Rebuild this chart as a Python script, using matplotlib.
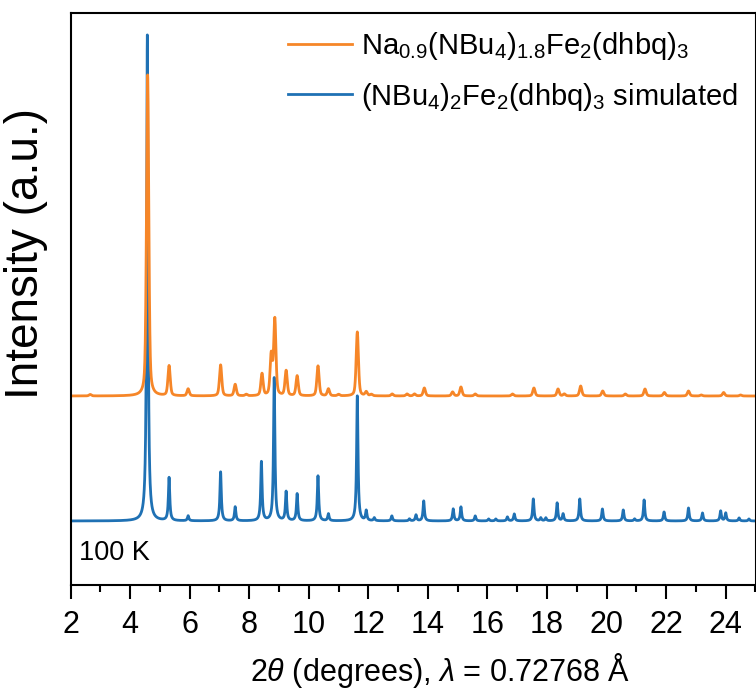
import numpy as np
import matplotlib
matplotlib.use("Agg")
import matplotlib.pyplot as plt
from matplotlib.ticker import MultipleLocator

# ── Peak lists (2θ in degrees, height in a.u.) ──

sim_pos = [4.58, 5.31, 5.95, 7.04, 7.53, 8.41, 8.84, 9.24, 9.61, 10.31, 10.66,
           11.63, 11.93, 12.20, 12.79, 13.38, 13.60, 13.86, 14.85, 15.11, 15.59,
           16.04, 16.28, 16.67, 16.90, 17.54, 17.79, 17.96, 18.34, 18.54, 19.10,
           19.86, 20.56, 20.94, 21.26, 21.93, 22.75, 23.22, 23.83, 24.00, 24.45,
           24.78]
sim_int = [486, 43, 5, 49, 14, 59, 143, 29, 27, 45, 7,
           125, 10, 3, 5, 2, 6, 20, 12, 14, 5,
           2, 2, 4, 7, 22, 3, 3, 18, 7, 22,
           12, 11, 2, 21, 9, 13, 8, 10, 8, 3,
           2]

exp_pos = [2.66, 4.59, 5.31, 5.95, 7.04, 7.53, 7.90, 8.43, 8.74, 8.86, 9.24,
           9.61, 10.31, 10.66, 11.00, 11.63, 11.93, 12.10, 12.80, 13.30, 13.55,
           13.88, 14.83, 15.11, 15.59, 16.84, 17.56, 18.37, 18.58, 19.13, 19.87,
           20.63, 21.29, 21.94, 22.75, 23.18, 23.93, 24.50]
exp_int = [1.5, 321, 30, 7, 31, 11.5, 1.5, 22, 40, 76, 25,
           20, 30, 7, 1.5, 64, 4, 1.5, 2, 2, 2,
           8, 4, 9, 2, 2, 8, 7, 2, 10, 5,
           2, 7, 3.5, 5, 1, 3.5, 1]

sim_fwhm, sim_eta = 0.055, 1.0      # pure Lorentzian for the simulation
exp_fwhm, exp_eta = 0.09, 0.45      # pseudo-Voigt for the measured data
exp_offset = 125

two_theta = np.linspace(2, 25, 4601)


def pattern(pos, inten, fwhm, eta):
    g = fwhm / 2
    s = fwhm / 2.3548
    y = np.zeros_like(two_theta)
    for p, h in zip(pos, inten):
        d = two_theta - p
        lor = g**2 / (d**2 + g**2)
        gau = np.exp(-d**2 / (2 * s**2))
        y += h * (eta * lor + (1 - eta) * gau)
    return y


sim = pattern(sim_pos, sim_int, sim_fwhm, sim_eta)
exp = pattern(exp_pos, exp_int, exp_fwhm, exp_eta) + exp_offset

# ── Plot ──

plt.rcParams.update({
    'font.family': 'Liberation Sans',
    'mathtext.fontset': 'custom',
    'mathtext.rm': 'Liberation Sans',
    'mathtext.it': 'Liberation Sans:italic',
    'font.size': 22,
})

fig = plt.figure(figsize=(7.56, 6.89), dpi=100)
ax = fig.add_axes([70.5 / 756, 1 - 585 / 689, 685 / 756, 572 / 689])

blue = '#1f71b4'
orange = '#f68628'

l_sim, = ax.plot(two_theta, sim, color=blue, lw=2.0)
l_exp, = ax.plot(two_theta, exp, color=orange, lw=2.0)

ax.set_xlim(2, 25)
ax.set_ylim(-64, 508)
ax.set_yticks([])
ax.xaxis.set_major_locator(MultipleLocator(2))
ax.xaxis.set_minor_locator(MultipleLocator(1))
ax.tick_params(axis='x', which='major', direction='out', length=10, width=1.5,
               pad=8, labelsize=22)
ax.tick_params(axis='x', which='minor', direction='out', length=5, width=1.5)
for s in ax.spines.values():
    s.set_linewidth(1.5)

ax.set_xlabel(r'2$\it{\theta}$ (degrees), $\it{\lambda}$ = 0.72768 Å', fontsize=22)
ax.xaxis.set_label_coords(0.54, -0.115)
ax.set_ylabel('Intensity (a.u.)', fontsize=33)
ax.yaxis.set_label_coords(-0.033, 0.58)

ax.text(2.3, -32, '100 K', fontsize=19.5, va='center', ha='left')

ax.legend([l_exp, l_sim],
          [r'Na$_{0.9}$(NBu$_4$)$_{1.8}$Fe$_2$(dhbq)$_3$',
           r'(NBu$_4$)$_2$Fe$_2$(dhbq)$_3$ simulated'],
          loc='upper right', frameon=False, fontsize=21,
          handlelength=2.2, handletextpad=0.3, labelspacing=0.62,
          borderaxespad=0.2)

fig.savefig('out.png', dpi=100)
